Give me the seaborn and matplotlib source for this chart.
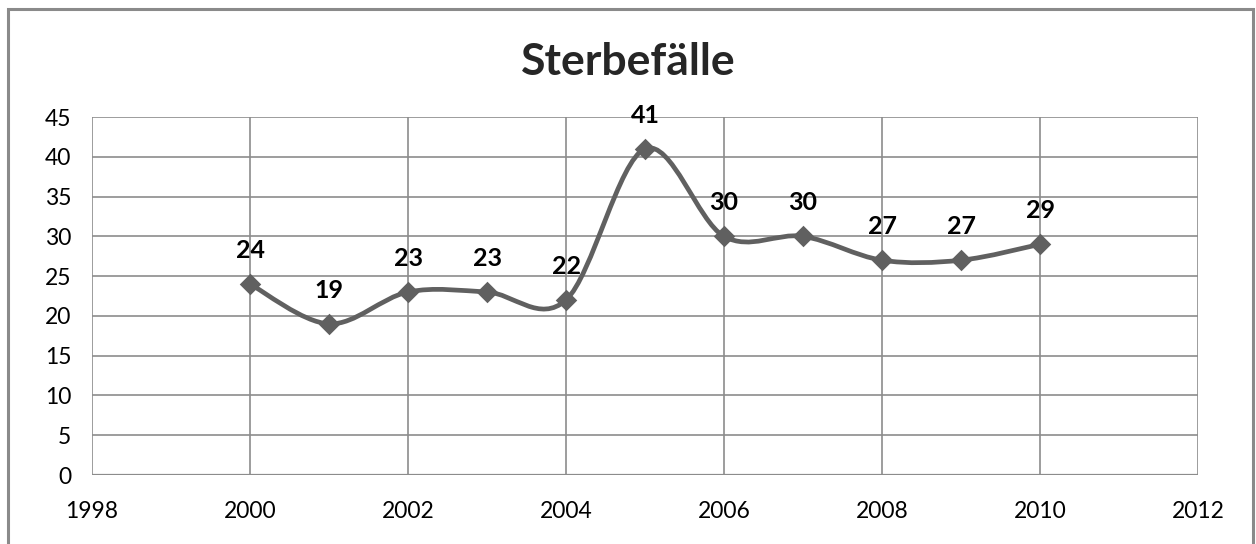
import numpy as np
import pandas as pd
import matplotlib
matplotlib.use("Agg")
import matplotlib.pyplot as plt
from matplotlib.path import Path
from matplotlib.patches import PathPatch, Rectangle
import seaborn as sns

years = [2000, 2001, 2002, 2003, 2004, 2005, 2006, 2007, 2008, 2009, 2010]
deaths = [24, 19, 23, 23, 22, 41, 30, 30, 27, 27, 29]
x_ticks = [1998, 2000, 2002, 2004, 2006, 2008, 2010, 2012]
y_ticks = [0, 5, 10, 15, 20, 25, 30, 35, 40, 45]

df = pd.DataFrame({"Jahr": years, "Sterbefälle": deaths})

sns.set_theme(style="white")
plt.rcParams["font.family"] = ["Lato", "DejaVu Sans"]

line_col = "#606060"
grid_col = "#8c8c8c"

fig = plt.figure(figsize=(12.56, 5.44), dpi=100)
ax = fig.add_axes([92 / 1256, 1 - 475 / 544, (1198 - 92) / 1256, (475 - 117) / 544])

# Excel-style smoothed line: cubic Bezier segments through the data points
pts = np.column_stack([df["Jahr"], df["Sterbefälle"]]).astype(float)
ext = np.vstack([pts[0], pts, pts[-1]])
verts = [tuple(pts[0])]
codes = [Path.MOVETO]
for i in range(len(pts) - 1):
    p0, p1, p2, p3 = ext[i], ext[i + 1], ext[i + 2], ext[i + 3]
    c1 = p1 + (p2 - p0) / 6
    c2 = p2 - (p3 - p1) / 6
    verts += [tuple(c1), tuple(c2), tuple(p2)]
    codes += [Path.CURVE4] * 3
ax.add_patch(PathPatch(Path(verts, codes), facecolor="none", edgecolor=line_col,
                       lw=3.4, zorder=3, capstyle="round", joinstyle="round"))

sns.scatterplot(data=df, x="Jahr", y="Sterbefälle", marker="D", s=120,
                color=line_col, edgecolor=line_col, linewidth=0, zorder=4, ax=ax)

for x, y in zip(years, deaths):
    ax.annotate(str(y), (x, y), xytext=(0, 24), textcoords="offset points",
                ha="center", va="center", fontsize=18, fontweight="bold", color="black")

ax.set_xlim(1998, 2012)
ax.set_ylim(0, 45)
ax.set_xticks(x_ticks)
ax.set_yticks(y_ticks)
ax.set_xlabel("")
ax.set_ylabel("")
ax.grid(True, color=grid_col, lw=1.2)
ax.set_axisbelow(True)
for s in ax.spines.values():
    s.set_visible(False)
ax.tick_params(axis="both", colors=grid_col, labelcolor="black", labelsize=16.5,
               length=7, width=1.2)
ax.tick_params(axis="x", direction="out", pad=12)
ax.tick_params(axis="y", direction="out", pad=8)
ax.axhline(0, color=grid_col, lw=1.6, zorder=1)

fig.text(0.5, 1 - 62 / 544, "Sterbefälle", ha="center", va="center",
         fontsize=32, fontweight="bold")

fig.patches.append(Rectangle((8 / 1256, -0.01), (1253 - 8) / 1256, (544 - 9) / 544 + 0.01,
                             transform=fig.transFigure, fill=False,
                             edgecolor="#8a8a8a", lw=2.2))

fig.savefig("out.png", dpi=100)
